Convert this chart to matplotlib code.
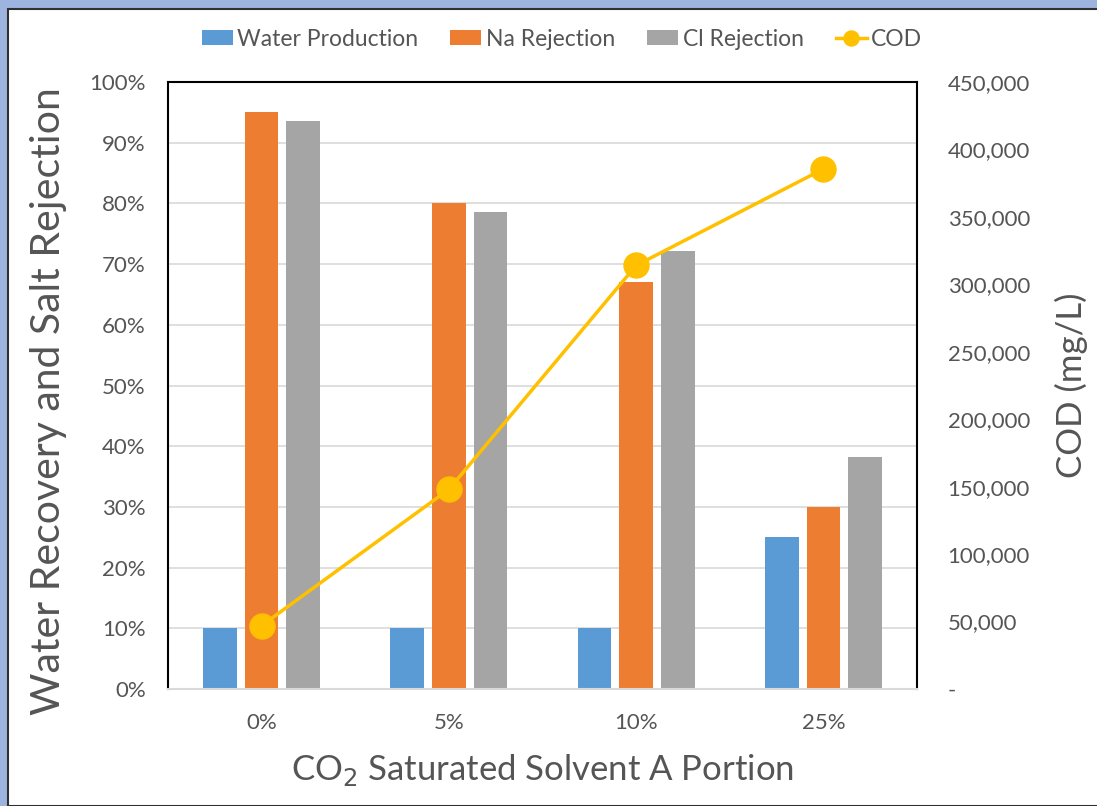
import matplotlib
matplotlib.use("Agg")
import matplotlib.pyplot as plt
import numpy as np
from matplotlib.patches import Rectangle
from matplotlib.ticker import FuncFormatter, MultipleLocator

categories = ["0%", "5%", "10%", "25%"]
water_production = [10.0, 10.0, 10.0, 25.0]
na_rejection = [95.0, 80.0, 67.0, 30.0]
cl_rejection = [93.6, 78.6, 72.2, 38.2]
cod = [47000, 148000, 314000, 385500]

plt.rcParams['font.family'] = ['Lato', 'DejaVu Sans']
txt = '#555555'

fig = plt.figure(figsize=(10.97, 8.06), dpi=100)
fig.patch.set_facecolor('#9DB4DE')
fig.patches.append(Rectangle((8/1097, 0), 1.0, 1 - 9/806, transform=fig.transFigure,
                             facecolor='white', edgecolor='#303030', linewidth=1.5, zorder=-10))

ax = fig.add_axes([168/1097, 1 - 689/806, (917 - 168)/1097, (689 - 82)/806])
ax.set_facecolor('none')
x = np.arange(len(categories))
w = 0.18
step = 0.222
c_blue, c_orange, c_gray, c_gold = '#5B9BD5', '#ED7D31', '#A5A5A5', '#FFC000'
ax.bar(x - step, water_production, w, color=c_blue, label='Water Production', zorder=2)
ax.bar(x, na_rejection, w, color=c_orange, label='Na Rejection', zorder=2)
ax.bar(x + step, cl_rejection, w, color=c_gray, label='Cl Rejection', zorder=2)

ax.set_xlim(-0.5, 3.5)
ax.set_ylim(0, 100)
ax.yaxis.set_major_locator(MultipleLocator(10))
ax.yaxis.set_major_formatter(FuncFormatter(lambda v, p: f"{v:.0f}%"))
ax.set_xticks(x)
ax.set_xticklabels(categories)
ax.grid(axis='y', color='#D9D9D9', linewidth=1.2, zorder=0)
ax.set_axisbelow(True)
for s in ['left', 'top', 'right']:
    ax.spines[s].set_color('black')
    ax.spines[s].set_linewidth(1.5)
ax.spines['bottom'].set_color('#D9D9D9')
ax.spines['bottom'].set_linewidth(1.5)
ax.tick_params(axis='y', length=0, pad=16, labelsize=16, labelcolor=txt)
ax.tick_params(axis='x', length=0, pad=17, labelsize=16, labelcolor=txt)
ax.set_ylabel('Water Recovery and Salt Rejection', fontsize=29.5, color=txt, labelpad=16)
ax.yaxis.label.set_y(0.475)
ax.set_xlabel('CO$_2$ Saturated Solvent A Portion', fontsize=25, color=txt, labelpad=14)

ax2 = ax.twinx()
ax2.plot(x, cod, color=c_gold, linewidth=2.5, marker='o', markersize=18, label='COD', zorder=5)
ax2.set_ylim(0, 450000)
ax2.yaxis.set_major_locator(MultipleLocator(50000))
ax2.yaxis.set_major_formatter(FuncFormatter(lambda v, p: '-' if v == 0 else f"{v:,.0f}"))
ax2.tick_params(axis='y', length=0, pad=22, labelsize=16, labelcolor=txt)
for s in ax2.spines.values():
    s.set_visible(False)
ax2.set_ylabel('COD (mg/L)', fontsize=25, color=txt, labelpad=18)

h1, l1 = ax.get_legend_handles_labels()
h2, l2 = ax2.get_legend_handles_labels()
leg = fig.legend(h1 + h2, l1 + l2, loc='center', bbox_to_anchor=(562/1097, 1 - 39/806), ncol=4,
                 frameon=False, fontsize=16.5, handlelength=1.35, handleheight=0.6,
                 handletextpad=0.2, columnspacing=1.4, markerscale=0.6)
for t in leg.get_texts():
    t.set_color(txt)

fig.savefig('out.png', dpi=100)
